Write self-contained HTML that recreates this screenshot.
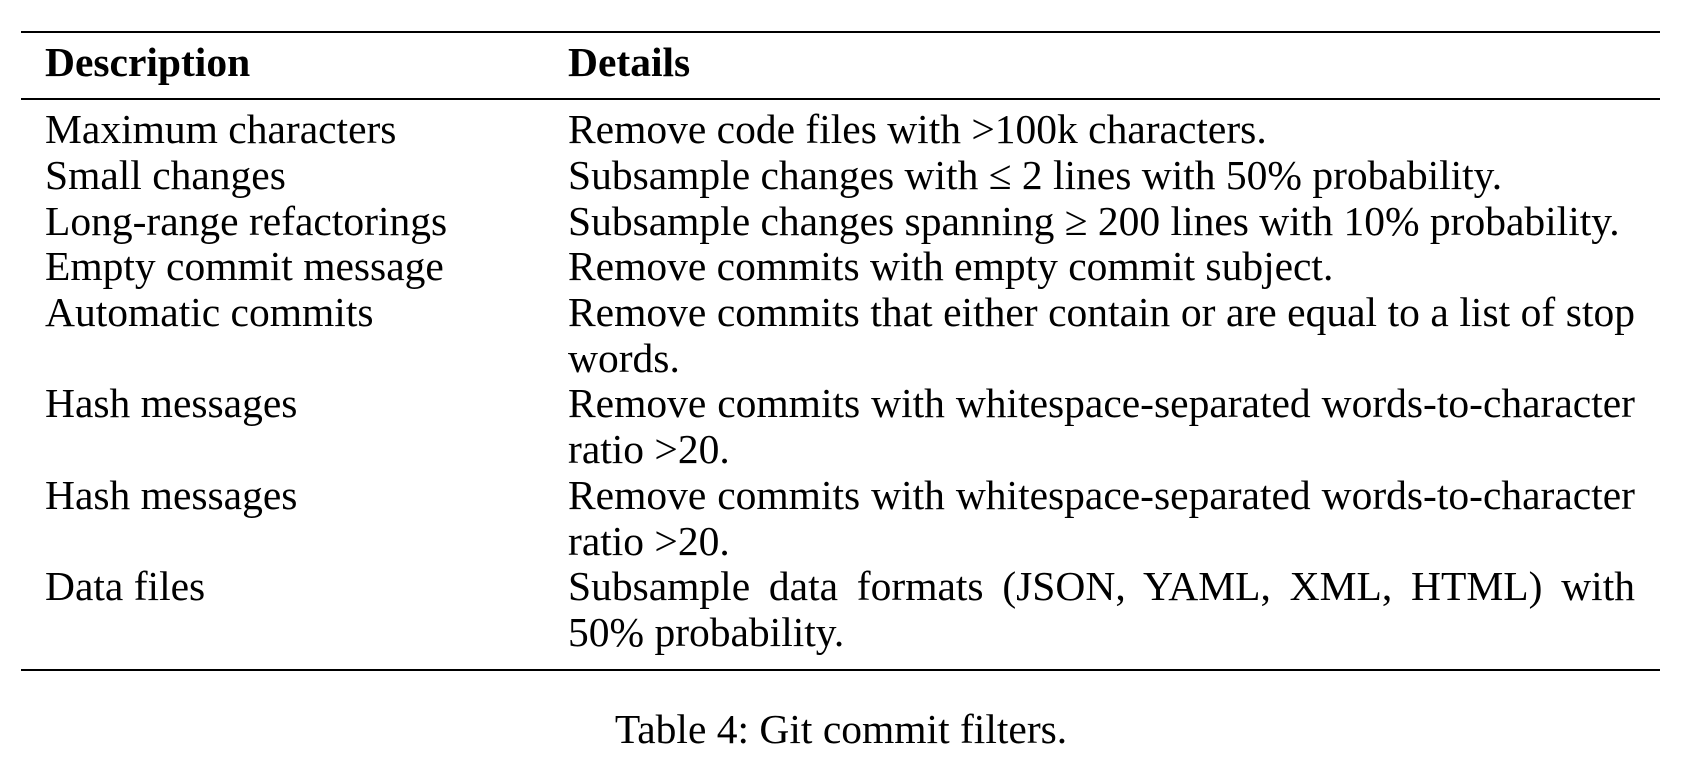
<!DOCTYPE html>
<html><head><meta charset="utf-8"><style>
html,body{margin:0;padding:0;background:#fff;}
body{width:1708px;height:770px;position:relative;overflow:hidden;font-family:"Liberation Serif","DejaVu Serif",serif;font-size:41.5px;color:#000;}
.r{position:absolute;left:21px;width:1639px;background:#000;}
.t{position:absolute;line-height:45.7px;white-space:nowrap;}
.c1{left:45px;}
.c2{left:568px;}
.j{width:1067px;text-align:justify;text-align-last:justify;white-space:normal;}
b{font-weight:bold;}
</style></head><body>
<div class="r" style="top:30.5px;height:2.8px"></div>
<div class="r" style="top:98px;height:1.7px"></div>
<div class="r" style="top:668.5px;height:2.8px"></div>
<div class="t c1" style="top:40.2px"><b>Description</b></div>
<div class="t c2" style="top:40.2px"><b>Details</b></div>
<div class="t c1" style="top:107.2px">Maximum characters</div>
<div class="t c1" style="top:152.9px">Small changes</div>
<div class="t c1" style="top:198.6px">Long-range refactorings</div>
<div class="t c1" style="top:244.3px">Empty commit message</div>
<div class="t c1" style="top:290px">Automatic commits</div>
<div class="t c1" style="top:381.4px">Hash messages</div>
<div class="t c1" style="top:472.8px">Hash messages</div>
<div class="t c1" style="top:564.2px">Data files</div>
<div class="t c2" style="top:107.2px">Remove code files with &gt;100k characters.</div>
<div class="t c2" style="top:152.9px">Subsample changes with ≤ 2 lines with 50% probability.</div>
<div class="t c2" style="top:198.6px">Subsample changes spanning ≥ 200 lines with 10% probability.</div>
<div class="t c2" style="top:244.3px">Remove commits with empty commit subject.</div>
<div class="t c2 j" style="top:290px">Remove commits that either contain or are equal to a list of stop</div>
<div class="t c2" style="top:335.7px">words.</div>
<div class="t c2 j" style="top:381.4px">Remove commits with whitespace-separated words-to-character</div>
<div class="t c2" style="top:427.1px">ratio &gt;20.</div>
<div class="t c2 j" style="top:472.8px">Remove commits with whitespace-separated words-to-character</div>
<div class="t c2" style="top:518.5px">ratio &gt;20.</div>
<div class="t c2 j" style="top:564.2px">Subsample data formats (JSON, YAML, XML, HTML) with</div>
<div class="t c2" style="top:609.9px">50% probability.</div>
<div class="t" style="top:707px;left:0;width:1682px;text-align:center">Table 4: Git commit filters.</div>
</body></html>
